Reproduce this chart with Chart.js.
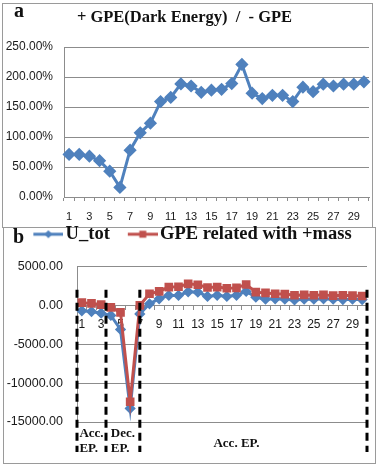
<!DOCTYPE html>
<html lang="en">
<head>
<meta charset="UTF-8">
<title>GPE charts</title>
<style>
    body { margin: 0; background: #fff; }
    .panel { position: absolute; box-sizing: border-box; border: 1px solid #9a9a9a; }
    .chartBox { position: absolute; left: 0; width: 378px; }
    .tag { position: absolute; font: bold 20px 'Liberation Serif', serif; line-height: 20px; color: #111; }
</style>
</head>
<body>
<div class="panel" style="left:2px;top:3px;width:371px;height:225px"></div>
<div class="panel" style="left:3px;top:227px;width:373px;height:237px"></div>
<div class="chartBox" style="top:0;height:228px"><canvas id="chartA"></canvas></div>
<div class="chartBox" style="top:214px;height:250px"><canvas id="chartB"></canvas></div>
<div class="tag" style="left:14px;top:0">a</div>
<div class="tag" style="left:13px;top:226px">b</div>
<script src="https://cdn.jsdelivr.net/npm/chart.js"></script>
<script>
    // data
    const steps = ['1','2','3','4','5','6','7','8','9','10','11','12','13','14','15',
        '16','17','18','19','20','21','22','23','24','25','26','27','28','29','30'];
    const ratio = [71, 71, 68, 60.5, 43, 16, 78, 107, 123, 159, 166, 188.5, 185, 174.5, 178,
        179.5, 189, 221, 173, 164, 169.5, 169.5, 159, 183, 175.5, 188, 185, 188, 188, 192];
    const uTot = [-700, -800, -1000, -1300, -3100, -13250, -1100, 200, 850, 1280, 1280, 1750, 1700, 1150, 1300,
        1150, 1300, 1800, 1060, 800, 850, 800, 700, 800, 800, 850, 800, 750, 800, 750];
    const gpe = [350, 250, 100, -250, -900, -12400, 0, 1490, 1800, 2350, 2400, 2770, 2650, 2300, 2350,
        2200, 2250, 2690, 1700, 1600, 1500, 1450, 1300, 1350, 1300, 1350, 1250, 1300, 1250, 1200];
    const ratioTicks = [0, 50, 100, 150, 200, 250];
    const energyTicks = [-15000, -10000, -5000, 0, 5000];
    // dashed phase borders (category positions) and their notes
    const phaseLines = [-0.5, 2.5, 6, 29.5];
    const phaseNotes = [
        {from: -0.5, to: 2.5, text: ['Acc.', 'EP.']},
        {from: 2.5, to: 6, text: ['Dec.', 'EP.']},
        {from: 16, to: 16, text: ['Acc. EP.']}
    ];

    const blue = '#4F81BD';
    const red = '#C0504D';
    const grey = '#8c8c8c';
    const ink = '#1a1a1a';

    // Chart a
    const configA = {
        type: 'line',
        data: {
            labels: steps,
            datasets: [{
                label: 'ratio',
                data: ratio,
                borderColor: blue,
                backgroundColor: blue,
                borderWidth: 3,
                pointStyle: 'rectRot',
                pointRadius: 4.5,
                tension: 0
            }]
        },
        options: {
            animation: false,
            responsive: true,
            maintainAspectRatio: false,
            layout: {padding: {left: 0, right: 9, top: 0, bottom: 0}},
            plugins: {
                legend: {display: false},
                tooltip: {enabled: false},
                title: {
                    display: true,
                    text: '+ GPE(Dark Energy)  /  - GPE',
                    color: '#111',
                    font: {family: 'Liberation Serif', size: 16.5, weight: 'bold'},
                    padding: {top: 8, bottom: 19.2}
                }
            },
            scales: {
                x: {
                    offset: true,
                    grid: {offset: true, drawOnChartArea: false, tickLength: 4, color: grey},
                    border: {color: grey},
                    ticks: {
                        autoSkip: false, maxRotation: 0, padding: 9, color: ink,
                        font: {family: 'Liberation Sans', size: 11},
                        callback: (v, i) => i % 2 === 0 ? steps[i] : ''
                    },
                    afterFit: s => { s.height = 31; }
                },
                y: {
                    min: ratioTicks[0],
                    max: ratioTicks[ratioTicks.length - 1],
                    grid: {color: grey, drawTicks: false},
                    border: {color: grey},
                    ticks: {
                        stepSize: 50, padding: 11, color: ink,
                        font: {family: 'Liberation Sans', size: 12},
                        callback: v => v.toFixed(2) + '%'
                    },
                    afterFit: s => { s.width = 64; }
                }
            }
        }
    };
    new Chart(document.getElementById('chartA'), configA);

    // legend swatches: line with marker
    function swatch(color, shape) {
        const c = document.createElement('canvas');
        c.width = 44; c.height = 10;
        const g = c.getContext('2d');
        g.strokeStyle = color; g.fillStyle = color; g.lineWidth = 3;
        g.beginPath(); g.moveTo(14, 5); g.lineTo(44, 5); g.stroke();
        g.beginPath();
        if (shape === 'diamond') {
            g.moveTo(29, 1); g.lineTo(33, 5); g.lineTo(29, 9); g.lineTo(25, 5);
        } else {
            g.rect(25.5, 1.5, 7, 7);
        }
        g.fill();
        return c;
    }
    const swatches = [swatch(blue, 'diamond'), swatch(red, 'square')];

    const phasePlugin = {
        id: 'phases',
        afterDatasetsDraw(chart) {
            const {ctx, chartArea} = chart;
            const x = chart.scales.x, y = chart.scales.y;
            ctx.save();
            ctx.strokeStyle = '#000';
            ctx.lineWidth = 3;
            ctx.setLineDash([8, 5]);
            const top = y.getPixelForValue(2000);
            const bottom = chartArea.bottom + 30;
            phaseLines.forEach(p => {
                const px = x.getPixelForValue(p);
                ctx.beginPath(); ctx.moveTo(px, top); ctx.lineTo(px, bottom); ctx.stroke();
            });
            ctx.setLineDash([]);
            ctx.font = 'bold 13px "Liberation Serif"';
            ctx.fillStyle = '#111';
            ctx.textBaseline = 'middle';
            phaseNotes.forEach(n => {
                const mid = (x.getPixelForValue(n.from) + x.getPixelForValue(n.to)) / 2;
                if (n.text.length === 1) {
                    ctx.textAlign = 'center';
                    ctx.fillText(n.text[0], mid, chartArea.bottom + 22);
                } else {
                    const left = mid - ctx.measureText(n.text[0]).width / 2;
                    ctx.textAlign = 'left';
                    ctx.fillText(n.text[0], left, chartArea.bottom + 12);
                    ctx.fillText(n.text[1], left, chartArea.bottom + 27);
                }
            });
            ctx.restore();
        }
    };

    // Chart b
    const configB = {
        type: 'line',
        data: {
            labels: steps,
            datasets: [
                {
                    label: 'U_tot',
                    data: uTot,
                    borderColor: blue,
                    backgroundColor: blue,
                    borderWidth: 3,
                    pointStyle: 'rectRot',
                    pointRadius: 3.5,
                    order: 1
                },
                {
                    label: 'GPE related with +mass',
                    data: gpe,
                    borderColor: red,
                    backgroundColor: red,
                    borderWidth: 3,
                    pointStyle: 'rect',
                    pointRadius: 4,
                    order: 0
                }
            ]
        },
        options: {
            animation: false,
            responsive: true,
            maintainAspectRatio: false,
            layout: {padding: {left: 0, right: 0, top: 0, bottom: 42}},
            plugins: {
                tooltip: {enabled: false},
                // empty spacer between legend and plot
                subtitle: {
                    display: true,
                    text: '',
                    weight: 500,
                    font: {size: 13, lineHeight: 1},
                    padding: 0
                },
                legend: {
                    display: true,
                    position: 'top',
                    labels: {
                        usePointStyle: true,
                        pointStyleWidth: 30,
                        padding: 11,
                        color: '#111',
                        font: {family: 'Liberation Serif', size: 18.5, weight: 'bold'},
                        sort: (a, b) => a.datasetIndex - b.datasetIndex,
                        generateLabels: chart => Chart.defaults.plugins.legend.labels.generateLabels(chart)
                            .map(l => Object.assign(l, {pointStyle: swatches[l.datasetIndex]}))
                    }
                }
            },
            scales: {
                x: {
                    position: {y: 0},
                    offset: true,
                    grid: {offset: true, drawOnChartArea: false, tickLength: 4, color: grey},
                    border: {color: grey},
                    ticks: {
                        autoSkip: false, maxRotation: 0, padding: 8, color: ink,
                        font: {family: 'Liberation Sans', size: 12},
                        callback: (v, i) => i % 2 === 0 ? steps[i] : ''
                    }
                },
                y: {
                    min: energyTicks[0],
                    max: energyTicks[energyTicks.length - 1],
                    grid: {color: grey, drawTicks: false},
                    border: {color: grey},
                    ticks: {
                        stepSize: 5000, padding: 14, color: ink,
                        font: {family: 'Liberation Sans', size: 12.5},
                        callback: v => v.toFixed(2)
                    },
                    afterFit: s => { s.width = 77; }
                },
                // empty right-hand margin
                yRight: {
                    position: 'right',
                    grid: {display: false},
                    border: {display: false},
                    ticks: {display: false},
                    afterFit: s => { s.width = 11; }
                }
            }
        },
        plugins: [phasePlugin]
    };
    new Chart(document.getElementById('chartB'), configB);
</script>
</body>
</html>
